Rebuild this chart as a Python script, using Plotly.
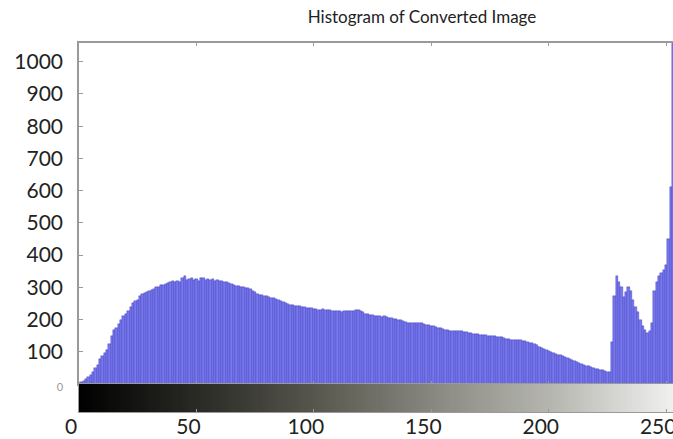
import plotly.graph_objects as go

# Histogram counts for gray levels 0..255
counts = [
    2, 5, 10, 15, 22, 28, 38, 50, 60, 78,
    88, 95, 105, 125, 150, 168, 175, 185, 199, 210,
    218, 225, 238, 250, 256, 262, 272, 278, 282, 286,
    290, 293, 296, 300, 302, 308, 306, 310, 312, 315,
    319, 316, 320, 318, 328, 334, 322, 326, 330, 324,
    326, 320, 330, 328, 324, 326, 322, 325, 320, 322,
    319, 321, 318, 316, 314, 310, 308, 305, 303, 301,
    300, 299, 298, 296, 290, 285, 280, 277, 275, 273,
    272, 270, 268, 266, 264, 262, 258, 254, 250, 247,
    245, 244, 243, 242, 241, 240, 238, 237, 236, 235,
    234, 233, 231, 231, 232, 230, 231, 229, 228, 227,
    226, 225, 224, 225, 226, 225, 226, 228, 230, 231,
    228, 222, 218, 216, 215, 213, 212, 211, 210, 208,
    210, 207, 205, 204, 203, 201, 200, 198, 195, 192,
    190, 189, 189, 190, 189, 188, 189, 186, 184, 182,
    181, 179, 177, 175, 173, 171, 169, 167, 166, 165,
    164, 163, 163, 163, 161, 160, 159, 158, 156, 155,
    154, 153, 152, 151, 150, 150, 149, 148, 146, 145,
    145, 143, 141, 139, 137, 136, 136, 135, 135, 134,
    132, 130, 128, 126, 123, 120, 116, 112, 108, 104,
    101, 98, 96, 93, 91, 89, 86, 83, 80, 77,
    74, 71, 68, 65, 62, 59, 57, 55, 52, 50,
    48, 46, 44, 42, 40, 38, 37, 130, 272, 334,
    318, 300, 270, 285, 301, 290, 262, 240, 222, 200,
    180, 168, 158, 165, 189, 290, 315, 335, 345, 355,
    370, 450, 610, 1200, 1800, 2400,
]
gray_levels = list(range(256))

x_tick_vals = [0, 50, 100, 150, 200, 250]
x_tick_text = ["0", "50", "100", "150", "200", "250"]
y_tick_vals = [0, 100, 200, 300, 400, 500, 600, 700, 800, 900, 1000]
y_tick_text = ['<span style="font-size:11px;fill:#9a9a9a">0</span>'] + [str(v) for v in y_tick_vals[1:]]

title_text = "Histogram of Converted Image"

FONT = "Lato"
FRAME = "#9a9a9a"

fig = go.Figure()

fig.add_trace(go.Bar(
    x=gray_levels, y=counts,
    marker=dict(color="#7878ee", line=dict(width=0.4, color="#3535b5")),
    width=1,
    xaxis="x", yaxis="y",
    showlegend=False,
))

fig.add_trace(go.Heatmap(
    x=gray_levels, y=[0], z=[gray_levels],
    colorscale=[[0, "#000000"], [0.2, "#2a2a26"], [0.4, "#58584f"],
                [0.6, "#8a8a82"], [0.8, "#b9b9b3"], [1, "#f2f2f2"]],
    showscale=False,
    xaxis="x2", yaxis="y2",
    hoverinfo="skip",
))

bar_dom = 28 / 369

fig.update_layout(
    width=673, height=439,
    margin=dict(l=79, r=0, t=43, b=27, autoexpand=False),
    paper_bgcolor="white", plot_bgcolor="white",
    bargap=0,
    font=dict(family=FONT, color="#222222"),
    title=dict(text=title_text, x=422 / 673, xref="container", xanchor="center",
               y=1 - 17 / 439, yref="container", yanchor="middle",
               font=dict(size=17, color="#222222", family=FONT)),
    xaxis=dict(domain=[0, 1], range=[0, 252.9], anchor="y",
               tickvals=x_tick_vals, showticklabels=False,
               ticks="inside", ticklen=3, tickcolor=FRAME,
               showline=True, linecolor=FRAME, linewidth=1.5, mirror="ticks",
               showgrid=False, zeroline=False, automargin=False),
    yaxis=dict(domain=[bar_dom, 1], range=[0, 1058], anchor="x",
               tickvals=y_tick_vals, ticktext=y_tick_text,
               ticks="inside", ticklen=4, tickcolor=FRAME,
               tickfont=dict(size=21, color="#222222", family=FONT),
               ticklabelstandoff=10,
               showline=True, linecolor=FRAME, linewidth=1.5,
               showgrid=False, zeroline=False, automargin=False),
    xaxis2=dict(domain=[0, 1], range=[0, 252.9], anchor="y2",
                tickvals=x_tick_vals, ticktext=x_tick_text,
                ticks="inside", ticklen=3, tickcolor=FRAME,
                tickfont=dict(size=21, color="#222222", family=FONT),
                ticklabelshift=-8, ticklabelstandoff=-4, ticklabeloverflow="allow",
                showline=True, linecolor=FRAME, linewidth=1, mirror=True,
                showgrid=False, zeroline=False, automargin=False),
    yaxis2=dict(domain=[0, bar_dom], range=[-0.5, 0.5], anchor="x2",
                showticklabels=False, ticks="", showgrid=False, zeroline=False,
                showline=True, linecolor=FRAME, linewidth=1, automargin=False),
)

fig.write_html(
    "out.html",
    config={"displayModeBar": False},
    post_script="document.body.style.margin='0';document.body.style.overflow='hidden';",
)
